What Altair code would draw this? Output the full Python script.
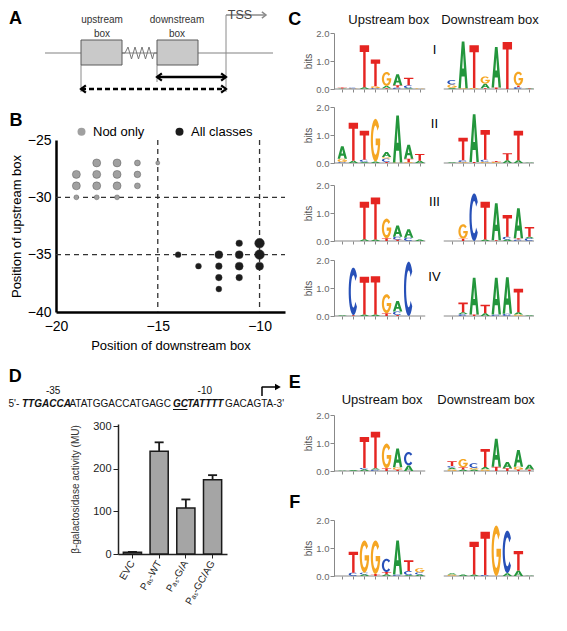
import numpy as np
import pandas as pd
import altair as alt

FONT = "Liberation Sans"

# ---------------- Panel A: schematic (panel units, y downwards) ----------------
A_LINE_X, A_LINE_X2, A_LINE_Y = [37], [265], [45]
A_BOX_X, A_BOX_X2, A_BOX_Y, A_BOX_Y2 = [73, 149], [114, 190], [32, 32], [57, 57]
A_ZIG_X = [114, 117, 120, 123.5, 127, 130.5, 134, 137.5, 141, 144.5, 146, 149]
A_ZIG_Y = [45, 45, 39, 51, 39, 51, 39, 51, 39, 51, 45, 45]
A_VLINE_X, A_VLINE_Y, A_VLINE_Y2 = [73, 149, 218], [57, 57, 7], [84, 74, 84]
A_TSS_X, A_TSS_X2, A_TSS_Y = [218], [258], [7]
A_SOLID_X, A_SOLID_X2, A_SOLID_Y = [149], [218], [69]
A_DASH_X, A_DASH_X2, A_DASH_Y = [73], [218], [81]
A_TEXT = ["upstream", "box", "downstream", "box"]
A_TEXT_X = [94, 94, 169, 169]
A_TEXT_Y = [12, 26, 12, 26]

# ---------------- Panel B data ----------------
NOD_X = [-19, -19, -19, -18, -18, -18, -18, -17, -17, -17, -17, -16, -16, -16, -15]
NOD_Y = [-28, -29, -30, -27, -28, -29, -30, -27, -28, -29, -30, -27, -28, -29, -27]
NOD_N = [5, 5, 2, 5, 5, 5, 2, 5, 5, 5, 2, 3, 4, 3, 1]
ALL_X = [-14, -13, -12, -12, -12, -12, -11, -11, -11, -11, -10, -10, -10]
ALL_Y = [-35, -36, -35, -36, -37, -38, -34, -35, -36, -37, -34, -35, -36]
ALL_N = [3, 3, 5, 4, 4, 3, 4, 5, 5, 4, 6, 6, 5]
B_VLINES = [-15, -10]
B_HLINES = [-30, -35]

# ---------------- Panel D data ----------------
SEQ_TEXT = ["5'-", "TTGACCA", "ATATGGACCATGAGC", "GC", "TATTTT", "GACAGTA-3'"]
SEQ_START = [-2.0, 0.0, 7.0, 22.3, 24.4, 30.0]
SEQ_BOLD = [False, True, False, True, True, False]
POS_LABELS = ["-35", "-10"]
POS_AT = [4.6, 27.0]
D_LABELS = ["EVC", "Pₐₛ-WT", "Pₐₛ-G/A", "Pₐₛ-GC/AG"]
D_VALUES = [4, 241, 108, 174]
D_ERRORS = [1, 21, 20, 11]

# ---------------- Sequence logos (bottom -> top stacks, bits) ----------------
C_I_UP = [[("A", .02), ("T", .03)], [("G", .02), ("C", .03)], [("A", .06), ("T", 1.5)],
          [("C", .03), ("G", .07), ("T", .95)], [("T", .03), ("A", .08), ("G", .5)],
          [("C", .05), ("T", .08), ("A", .4)], [("A", .03), ("C", .1), ("T", .27)], [("G", .02)]]
C_I_DOWN = [[("A", .04), ("G", .12), ("C", .16)], [("G", .03), ("A", 1.67)], [("G", .04), ("T", 1.52)],
            [("T", .03), ("A", .16), ("G", .26)], [("T", .05), ("A", 1.45)], [("T", 1.68)],
            [("C", .07), ("T", .05), ("G", .5)], [("A", .02), ("T", .02)]]
C_II_UP = [[("C", .03), ("G", .12), ("A", .45)], [("A", .08), ("T", 1.36)], [("A", .04), ("C", .08), ("T", 1.03)],
           [("A", .05), ("G", 1.53)], [("T", .04), ("C", .12), ("G", .05), ("A", .18)], [("G", .02), ("A", 1.68)],
           [("G", .03), ("T", .12), ("A", .5)], [("A", .08), ("T", .24)]]
C_II_DOWN = [[("A", .03)], [("G", .03), ("C", .07), ("T", .8)], [("T", .04), ("A", 1.7)],
             [("G", .04), ("C", .08), ("T", 1.06)], [("G", .04), ("T", .03)], [("A", .1), ("T", .25)],
             [("A", .1), ("T", 1.05)], [("A", .02)]]
C_III_UP = [[], [], [("A", .06), ("T", 1.34)], [("A", .05), ("T", 1.5)], [("T", .1), ("G", .7)],
            [("T", .05), ("C", .1), ("A", .4)], [("C", .12), ("A", .3)], [("A", .05)]]
C_III_DOWN = [[], [("T", .08), ("G", .52)], [("C", 1.7)], [("A", .05), ("T", 1.35)], [("T", .03), ("A", 1.32)],
              [("A", .05), ("C", .1), ("T", .78)], [("C", .05), ("T", .05), ("A", 1.07)],
              [("C", .1), ("A", .05), ("T", .35)]]
C_IV_UP = [[("A", .03)], [("T", .03), ("C", 1.7)], [("A", .05), ("T", 1.35)], [("A", .05), ("T", 1.37)],
           [("T", .1), ("G", .68)], [("T", .04), ("C", .12), ("A", .38)], [("C", 1.94)], []]
C_IV_DOWN = [[], [("C", .07), ("A", .06), ("T", .35)], [("T", .05), ("A", 1.32)], [("A", .1), ("T", .3)],
             [("C", .05), ("A", 1.32)], [("C", .08), ("A", 1.3)], [("G", .05), ("A", .08), ("T", .84)], [("A", .03)]]
E_UP = [[("A", .02)], [("A", .04)], [("A", .06), ("C", .05), ("T", 1.1)], [("C", .05), ("A", .05), ("T", 1.3)],
        [("T", .1), ("G", .88)], [("T", .05), ("G", .08), ("A", .67)], [("A", .2), ("C", .48)], []]
E_DOWN = [[("G", .06), ("A", .06), ("C", .06), ("T", .17)], [("A", .05), ("T", .08), ("G", .3)],
          [("A", .05), ("G", .06), ("C", .17)], [("G", .06), ("A", .08), ("T", .65)], [("T", .15), ("A", 1.0)],
          [("T", .1), ("A", .22)], [("T", .05), ("G", .1), ("A", .6)], [("T", .05), ("A", .17)]]
F_UP = [[], [("C", .12), ("T", .75)], [("A", .06), ("C", .06), ("G", 1.15)], [("T", .07), ("G", 1.2)],
        [("A", .06), ("T", .08), ("C", .48)], [("C", .05), ("A", 1.22)], [("A", .04), ("C", .14), ("T", .38)],
        [("A", .05), ("C", .08), ("G", .15)]]
F_DOWN = [[("G", .05), ("A", .05)], [("A", .05)], [("A", .05), ("T", 1.17)], [("C", .04), ("T", 1.54)],
          [("G", 1.8)], [("A", .1), ("C", 1.52)], [("A", .2), ("T", .69)], [("A", .02)]]

LETTERS = ["A", "C", "G", "T"]
LETTER_COLORS = ["#23963c", "#2750b8", "#f5a623", "#e52521"]

# ---------------- glyph outlines (unit box, y up) ----------------
def arc(cx, cy, rx, ry, a0, a1, n=26):
    return [(cx + rx * np.cos(np.radians(a)), cy + ry * np.sin(np.radians(a))) for a in np.linspace(a0, a1, n)]

def rect(x0, y0, x1, y1):
    return [(x0, y0), (x0, y1), (x1, y1), (x1, y0)]

GLYPHS = {
    "T": [[(0, 1), (1, 1), (1, .84), (.63, .84), (.63, 0), (.37, 0), (.37, .84), (0, .84)]],
    "A": [[(0, 0), (.36, 1), (.64, 1), (1, 0), (.74, 0), (.66, .25), (.34, .25), (.26, 0)],
          [(.41, .42), (.59, .42), (.5, .74)]],
    "C": [arc(.5, .5, .5, .5, 320, 40) + arc(.5, .5, .27, .34, 40, 320)],
    "G": [arc(.5, .5, .5, .5, 360, 40) + arc(.5, .5, .27, .34, 40, 360), rect(.52, .38, 1.0, .54)],
}

def glyph_path(letter, w, h):
    out = []
    for poly in GLYPHS[letter]:
        pts = [f"{(x - .5) * w:.2f},{(.5 - y) * h:.2f}" for x, y in poly]
        out.append("M" + "L".join(pts) + "Z")
    return "".join(out)

# ---------------- logo rows (upstream + downstream in one view) ----------------
LOGO_H = 56
PX_PER_BIT = LOGO_H / 2.0
DOWN_OFF = 9.92
LX_DOMAIN = [0.25, 18.33]
ROW_W = 200
STEP = ROW_W / (LX_DOMAIN[1] - LX_DOMAIN[0])
LETTER_W = 0.85 * STEP
AXIS_SEGS_X = [0.25, 10.17]
AXIS_SEGS_X2 = [8.5, LX_DOMAIN[1]]
TICK_POS = list(range(1, 9)) + [k + DOWN_OFF for k in range(1, 9)]

def lx(f):
    return alt.X(f, type="quantitative", scale=alt.Scale(domain=LX_DOMAIN, nice=False, zero=False),
                 axis=alt.Axis(values=TICK_POS, labels=False, domain=False, title=None, grid=False, tickSize=3,
                               tickColor="#888"))
def ly(f):
    return alt.Y(f, type="quantitative", scale=alt.Scale(domain=[0, 2], nice=False),
                 axis=alt.Axis(values=[0, 1, 2], format=".1f", title="bits", titleFontSize=10,
                               titleFontWeight="normal", titleColor="#555", titleFont=FONT, labelFont=FONT,
                               labelFontSize=9.5, labelColor="#666", domainColor="#888", tickColor="#888",
                               tickSize=4, labelPadding=1, titlePadding=2, grid=False, labelFlush=False))

def logo_row(up, down, numeral="", heads=None, letter=None):
    rows = []
    for off, cols in ((0.0, up), (DOWN_OFF, down)):
        for i, stack in enumerate(cols, start=1):
            base = 0.0
            for l, h in stack:
                rows.append({"pos": i + off, "letter": l, "mid": base + h / 2,
                             "path": glyph_path(l, LETTER_W, h * PX_PER_BIT)})
                base += h
    letters = alt.Chart(pd.DataFrame(rows)).mark_point(filled=True, opacity=1, size=4, strokeWidth=0).encode(
        x=lx("pos"), y=ly("mid"),
        shape=alt.Shape("path:N", scale=None),
        color=alt.Color("letter:N", scale=alt.Scale(domain=LETTERS, range=LETTER_COLORS), legend=None))
    axis_lines = alt.Chart(pd.DataFrame({"x": AXIS_SEGS_X, "x2": AXIS_SEGS_X2, "y": [0, 0]})).mark_rule(
        color="#888", strokeWidth=1).encode(x=lx("x"), x2="x2", y=ly("y"))
    layers = [axis_lines, letters]
    if numeral:
        layers.append(alt.Chart(pd.DataFrame({"t": [numeral], "x": [9.33], "y": [1.39]})).mark_text(
            fontSize=13, font=FONT, color="black").encode(x=lx("x"), y=ly("y"), text="t:N"))
    if heads:
        hx, hy = heads
        layers.append(alt.Chart(pd.DataFrame({"t": ["Upstream box", "Downstream box"], "x": hx, "y": [hy, hy]}))
                      .mark_text(fontSize=13, font=FONT, color="#111").encode(x=lx("x"), y=ly("y"), text="t:N"))
    if letter:
        t, x, y = letter
        layers.append(alt.Chart(pd.DataFrame({"t": [t], "x": [x], "y": [y]})).mark_text(
            fontSize=18, fontWeight="bold", font=FONT, color="black").encode(x=lx("x"), y=ly("y"), text="t:N"))
    return alt.layer(*layers).properties(width=ROW_W, height=LOGO_H)

def blank(w, h):
    return alt.Chart(pd.DataFrame({"t": [""]})).mark_text().encode(text="t:N").properties(width=w, height=h)

# ---------------- Panel A chart ----------------
LEFT_W = 280
A_H = 132
def ax(f):
    return alt.X(f, type="quantitative", scale=alt.Scale(domain=[0, LEFT_W], nice=False, zero=False), axis=None)
def ay(f):
    return alt.Y(f, type="quantitative", scale=alt.Scale(domain=[0, A_H], nice=False, zero=False, reverse=True), axis=None)

CHEV_L = "M1.3,-1L0,0L1.3,1"
CHEV_R = "M-1.3,-1L0,0L-1.3,1"

a_layers = [
    alt.Chart(pd.DataFrame({"x": A_LINE_X, "x2": A_LINE_X2, "y": A_LINE_Y})).mark_rule(color="#ababab", strokeWidth=1.5)
      .encode(x=ax("x"), x2="x2", y=ay("y")),
    alt.Chart(pd.DataFrame({"x": A_VLINE_X, "y": A_VLINE_Y, "y2": A_VLINE_Y2})).mark_rule(color="#8a8a8a", strokeWidth=1)
      .encode(x=ax("x"), y=ay("y"), y2="y2"),
    alt.Chart(pd.DataFrame({"x": A_ZIG_X, "y": A_ZIG_Y, "o": list(range(len(A_ZIG_X)))})).mark_line(color="#777", strokeWidth=1)
      .encode(x=ax("x"), y=ay("y"), order="o:Q"),
    alt.Chart(pd.DataFrame({"x": A_BOX_X, "x2": A_BOX_X2, "y": A_BOX_Y, "y2": A_BOX_Y2})).mark_rect(
        fill="#c9c9c9", stroke="#5a5a5a", strokeWidth=1).encode(x=ax("x"), x2="x2", y=ay("y"), y2="y2"),
    alt.Chart(pd.DataFrame({"x": A_TSS_X, "x2": A_TSS_X2, "y": A_TSS_Y})).mark_rule(color="#8a8a8a", strokeWidth=1.5)
      .encode(x=ax("x"), x2="x2", y=ay("y")),
    alt.Chart(pd.DataFrame({"x": A_TSS_X2, "y": A_TSS_Y})).mark_point(shape=CHEV_R, size=40, filled=False, stroke="#8a8a8a",
                                                                      strokeWidth=1.5, opacity=1).encode(x=ax("x"), y=ay("y")),
    alt.Chart(pd.DataFrame({"x": A_SOLID_X, "x2": A_SOLID_X2, "y": A_SOLID_Y})).mark_rule(color="black", strokeWidth=2.3)
      .encode(x=ax("x"), x2="x2", y=ay("y")),
    alt.Chart(pd.DataFrame({"x": A_DASH_X, "x2": A_DASH_X2, "y": A_DASH_Y})).mark_rule(color="black", strokeWidth=2.3,
                                                                                       strokeDash=[5, 3])
      .encode(x=ax("x"), x2="x2", y=ay("y")),
    alt.Chart(pd.DataFrame({"x": A_SOLID_X + A_DASH_X, "y": A_SOLID_Y + A_DASH_Y})).mark_point(
        shape=CHEV_L, size=56, filled=False, stroke="black", strokeWidth=2.2, opacity=1).encode(x=ax("x"), y=ay("y")),
    alt.Chart(pd.DataFrame({"x": A_SOLID_X2 + A_DASH_X2, "y": A_SOLID_Y + A_DASH_Y})).mark_point(
        shape=CHEV_R, size=56, filled=False, stroke="black", strokeWidth=2.2, opacity=1).encode(x=ax("x"), y=ay("y")),
    alt.Chart(pd.DataFrame({"t": A_TEXT, "x": A_TEXT_X, "y": A_TEXT_Y})).mark_text(fontSize=10, color="#333", font=FONT)
      .encode(x=ax("x"), y=ay("y"), text="t:N"),
    alt.Chart(pd.DataFrame({"t": ["TSS"], "x": [232], "y": [7]})).mark_text(fontSize=12.5, color="#444", font=FONT)
      .encode(x=ax("x"), y=ay("y"), text="t:N"),
    alt.Chart(pd.DataFrame({"t": ["A"], "x": [1], "y": [10.5]})).mark_text(fontSize=18, fontWeight="bold", align="left",
                                                                           color="black", font=FONT)
      .encode(x=ax("x"), y=ay("y"), text="t:N"),
]
panel_a = alt.layer(*a_layers).properties(width=LEFT_W, height=A_H)

# ---------------- Panel B chart ----------------
B_XDOM = [-20, -8.75]
def bx(f):
    return alt.X(f, type="quantitative", scale=alt.Scale(domain=B_XDOM, range=[48, 277], nice=False, zero=False),
                 axis=alt.Axis(values=[-20, -15, -10], title="Position of downstream box", domainWidth=2.5,
                               domainColor="black", ticks=False, labelFontSize=14, labelColor="black",
                               labelPadding=7, titleFontSize=13, titleFontWeight="normal", titlePadding=6,
                               grid=False, labelFont=FONT, titleFont=FONT, labelFlush=False, labelOverlap=False))
def by(f):
    return alt.Y(f, type="quantitative", scale=alt.Scale(domain=[-40, -25], nice=False, zero=False),
                 axis=alt.Axis(values=[-40, -35, -30, -25], title="Position of upstream box", domainWidth=2.5,
                               domainColor="black", ticks=False, labelFontSize=14, labelColor="black",
                               labelPadding=5, titleFontSize=13, titleFontWeight="normal", titlePadding=4,
                               grid=False, labelFont=FONT, titleFont=FONT, labelFlush=False, labelOverlap=False,
                               offset=-48))

b_df = pd.DataFrame({"x": NOD_X + ALL_X, "y": NOD_Y + ALL_Y, "n": NOD_N + ALL_N,
                     "cls": ["Nod only"] * len(NOD_X) + ["All classes"] * len(ALL_X)})
b_v = alt.Chart(pd.DataFrame({"x": B_VLINES})).mark_rule(strokeDash=[5, 4], color="#333", strokeWidth=1.3).encode(x=bx("x"))
b_h = alt.Chart(pd.DataFrame({"y": B_HLINES, "x": [B_XDOM[0]] * 2, "x2": [B_XDOM[1]] * 2})).mark_rule(
    strokeDash=[5, 4], color="#333", strokeWidth=1.3).encode(x=bx("x"), x2="x2", y=by("y"))
b_pts = alt.Chart(b_df).mark_circle(opacity=1, stroke="#444", strokeWidth=0.4).encode(
    x=bx("x"), y=by("y"),
    size=alt.Size("n:Q", scale=alt.Scale(domain=[1, 2, 3, 4, 5, 6], range=[16, 24, 35, 44, 64, 95]), legend=None),
    color=alt.Color("cls:N", scale=alt.Scale(domain=["Nod only", "All classes"], range=["#a0a0a0", "#1c1c1c"]),
                    legend=alt.Legend(orient="none", legendX=67, legendY=-15, direction="horizontal", title=None,
                                      labelFontSize=13, labelFont=FONT, labelColor="black", symbolSize=64,
                                      symbolType="circle", columnPadding=28, labelOffset=5, symbolStrokeWidth=0,
                                      symbolOpacity=1)),
)
b_lab = alt.Chart(pd.DataFrame({"t": ["B"], "x": [-21.96], "y": [-23.34]})).mark_text(
    fontSize=18, fontWeight="bold", font=FONT, color="black").encode(x=bx("x"), y=by("y"), text="t:N")
panel_b = alt.layer(b_v, b_h, b_pts, b_lab).properties(width=LEFT_W, height=172)

# ---------------- Panel D: sequence ----------------
DSEQ_H = 112
NT_PX = 6.77
def sx(f):
    return alt.X(f, type="quantitative",
                 scale=alt.Scale(domain=[-2.068, -2.068 + LEFT_W / NT_PX], nice=False, zero=False), axis=None)
def sy(f):
    return alt.Y(f, type="quantitative", scale=alt.Scale(domain=[0, DSEQ_H], nice=False, zero=False, reverse=True), axis=None)

seq_df = pd.DataFrame({"t": SEQ_TEXT, "x": SEQ_START, "bold": SEQ_BOLD, "y": [92] * len(SEQ_TEXT)})
d_layers = [
    alt.Chart(pd.DataFrame({"t": ["D"], "x": [-1.95], "y": [65]})).mark_text(fontSize=18, fontWeight="bold", align="left",
                                                                            font=FONT, color="black")
      .encode(x=sx("x"), y=sy("y"), text="t:N"),
    alt.Chart(pd.DataFrame({"t": POS_LABELS, "x": POS_AT, "y": [79, 79]})).mark_text(fontSize=10, font=FONT, color="#111")
      .encode(x=sx("x"), y=sy("y"), text="t:N"),
    alt.Chart(seq_df[~seq_df.bold]).mark_text(fontSize=10, font=FONT, align="left", color="#111")
      .encode(x=sx("x"), y=sy("y"), text="t:N"),
    alt.Chart(seq_df[seq_df.bold]).mark_text(fontSize=10, font=FONT, align="left", fontWeight="bold",
                                             fontStyle="italic", color="#111")
      .encode(x=sx("x"), y=sy("y"), text="t:N"),
    alt.Chart(pd.DataFrame({"x": [22.3], "x2": [24.45], "y": [97.5]})).mark_rule(color="#111", strokeWidth=1)
      .encode(x=sx("x"), x2="x2", y=sy("y")),
    alt.Chart(pd.DataFrame({"x": [35.45], "y": [75], "y2": [84]})).mark_rule(color="black", strokeWidth=1.5)
      .encode(x=sx("x"), y=sy("y"), y2="y2"),
    alt.Chart(pd.DataFrame({"x": [35.4], "x2": [37.4], "y": [75]})).mark_rule(color="black", strokeWidth=1.5)
      .encode(x=sx("x"), x2="x2", y=sy("y")),
    alt.Chart(pd.DataFrame({"x": [37.8], "y": [75]})).mark_point(shape="triangle-right", size=45, filled=True,
                                                                   color="black", opacity=1)
      .encode(x=sx("x"), y=sy("y")),
]
panel_dseq = alt.layer(*d_layers).properties(width=LEFT_W, height=DSEQ_H)

# ---------------- Panel D: bars ----------------
d_df = pd.DataFrame({"label": D_LABELS, "value": D_VALUES, "err": D_ERRORS})
d_df["top"] = d_df["value"] + d_df["err"]
dxenc = alt.X("label:N", sort=D_LABELS, scale=alt.Scale(range=[110, 219], paddingInner=0.32, paddingOuter=0.2),
              axis=alt.Axis(title=None, labelAngle=-60, labelFontSize=10, labelFont=FONT, labelColor="#222",
                            domainColor="#222", domainWidth=1.5, tickColor="#222", tickSize=4, labelPadding=3))
dyscale = alt.Scale(domain=[0, 305], nice=False)
dyaxis = alt.Axis(values=[0, 100, 200, 300], title="β-galactosidase activity (MU)", titleFontSize=10,
                  titleFontWeight="normal", titleColor="#333", titleFont=FONT, labelFont=FONT, labelFontSize=11,
                  labelColor="#222", domainColor="#222", domainWidth=1.5, tickColor="#222", tickSize=5,
                  labelPadding=2, titlePadding=12, grid=False, labelFlush=False, offset=-110)
d_base = alt.Chart(d_df).encode(x=dxenc)
d_bars = d_base.mark_bar(fill="#a5a5a5", stroke="#1a1a1a", strokeWidth=1.5).encode(
    y=alt.Y("value:Q", scale=dyscale, axis=dyaxis))
d_err = d_base.mark_rule(color="#1a1a1a", strokeWidth=1.8).encode(y=alt.Y("value:Q", scale=dyscale, axis=dyaxis), y2="top:Q")
d_cap = d_base.mark_tick(color="#1a1a1a", thickness=1.8, size=9, opacity=1).encode(y=alt.Y("top:Q", scale=dyscale, axis=dyaxis))
panel_dbar = alt.layer(d_err, d_bars, d_cap).properties(width=LEFT_W, height=130)

left = alt.vconcat(panel_a, panel_b, panel_dseq, panel_dbar, spacing=0, bounds="flush").resolve_scale(
    color="independent", size="independent")

# ---------------- Right column ----------------
right = alt.vconcat(
    blank(ROW_W, 25),
    logo_row(C_I_UP, C_I_DOWN, "I", heads=([5.2, 14.35], 2.46), letter=("C", -3.3, 2.45)),
    blank(ROW_W, 18),
    logo_row(C_II_UP, C_II_DOWN, "II"),
    blank(ROW_W, 22),
    logo_row(C_III_UP, C_III_DOWN, "III"),
    blank(ROW_W, 19),
    logo_row(C_IV_UP, C_IV_DOWN, "IV"),
    blank(ROW_W, 99),
    logo_row(E_UP, E_DOWN, heads=([4.6, 14.0], 2.54), letter=("E", -3.3, 3.14)),
    blank(ROW_W, 49),
    logo_row(F_UP, F_DOWN, letter=("F", -3.3, 2.59)),
    spacing=0, bounds="flush")

chart = alt.hconcat(left, right, spacing=0, padding=0).resolve_scale(
    color="independent", size="independent"
).configure(font=FONT, view=alt.ViewConfig(strokeWidth=0))

chart.save("out.html", embed_options={"renderer": "svg", "actions": False})
